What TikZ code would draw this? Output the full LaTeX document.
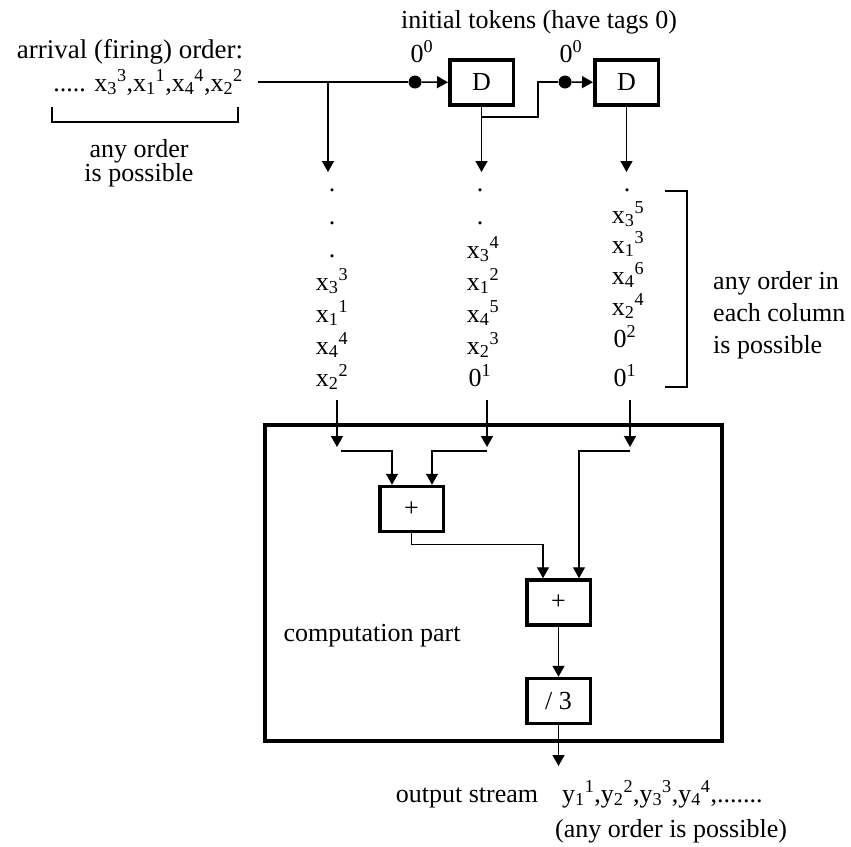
\documentclass[tikz,border=0pt]{standalone}
\usepackage{fontspec}
\setmainfont{Liberation Serif}
\usetikzlibrary{arrows.meta}
\newcommand{\tokx}[2]{x\textsubscript{#1}\textsuperscript{#2}}
\newcommand{\toky}[2]{y\textsubscript{#1}\textsuperscript{#2}}
\begin{document}
\begin{tikzpicture}[x=1pt,y=-1pt,
  thinline/.style={line width=1.4pt},
  bracketline/.style={line width=1.1pt},
  arr/.style={line width=1.4pt,-{Triangle[length=11pt,width=12pt]}},
  opbox/.style={draw,line width=3.5pt,minimum width=63.5pt,minimum height=45pt,inner sep=0pt,font=\fontsize{26}{30}\selectfont},
  tok/.style={circle,fill,inner sep=0pt,minimum size=13pt},
  lbl/.style={font=\fontsize{26}{32}\selectfont,inner sep=0pt,anchor=base},
  lblw/.style={lbl,anchor=base west}]
\useasboundingbox (0,0) rectangle (851,846);

% left texts
\node[lbl,font=\fontsize{27}{32}\selectfont] (arrival) at (130,58) {arrival (firing) order:};
\node[lbl] (seq) at (148,91) {..... \tokx33,\tokx11,\tokx44,\tokx22};
\draw[bracketline] (52,107) -- (52,122) -- (238,122) -- (238,107);
\node[lbl] (any1) at (139,157) {any order};
\node[lbl] (any2) at (139,181) {is possible};

% top
\node[lbl] (init) at (539,28) {initial tokens (have tags 0)};
\coordinate (start) at (258,82);
\coordinate (br1) at (328,82);
\node[tok] (dot1) at (415,82) {};
\node[lbl] (z1) at (422,62) {0\textsuperscript{0}};
\node[opbox] (d1) at (481.5,82.5) {D};
\node[tok] (dot2) at (565,82) {};
\node[lbl] (z2) at (571,62) {0\textsuperscript{0}};
\node[opbox] (d2) at (626.5,82.5) {D};

\coordinate (c1top) at (328,172);
\coordinate (c2top) at (481.5,172);
\coordinate (c3top) at (626.5,172);
\coordinate (jog) at (481.5,117);
\coordinate (jogr) at (538,117);
\coordinate (jogu) at (538,82);

\draw[thinline] (start) -- (dot1);
\draw[arr] (dot1) -- (d1);
\draw[arr] (br1) -- (c1top);
\draw[arr] (d1.south) -- (c2top);
\draw[thinline] (jog) -- (jogr) -- (jogu) -- (dot2);
\draw[arr] (dot2) -- (d2);
\draw[arr] (d2.south) -- (c3top);

% column 1
\node[lbl] (a1) at (332,191) {.};
\node[lbl] (a2) at (332,224) {.};
\node[lbl] (a3) at (332,257) {.};
\node[lbl] (a4) at (332,290) {\tokx33};
\node[lbl] (a5) at (332,322) {\tokx11};
\node[lbl] (a6) at (332,354) {\tokx44};
\node[lbl] (a7) at (332,386) {\tokx22};
% column 2
\node[lbl] (b1) at (480,191) {.};
\node[lbl] (b2) at (480,224) {.};
\node[lbl] (b3) at (483,258) {\tokx34};
\node[lbl] (b4) at (483,290) {\tokx12};
\node[lbl] (b5) at (483,322) {\tokx45};
\node[lbl] (b6) at (483,354) {\tokx23};
\node[lbl] (b7) at (480,386) {0\textsuperscript{1}};
% column 3
\node[lbl] (e1) at (627,191) {.};
\node[lbl] (e2) at (628,223) {\tokx35};
\node[lbl] (e3) at (628,253) {\tokx13};
\node[lbl] (e4) at (628,284) {\tokx46};
\node[lbl] (e5) at (628,315) {\tokx24};
\node[lbl] (e6) at (625,347) {0\textsuperscript{2}};
\node[lbl] (e7) at (625,386) {0\textsuperscript{1}};

\draw[bracketline] (665,191) -- (687,191) -- (687,387) -- (665,387);
\node[lblw] (r1) at (713,289) {any order in};
\node[lblw] (r2) at (713,321) {each column};
\node[lblw] (r3) at (713,353) {is possible};

% computation part
\node[draw,line width=4pt,minimum width=457pt,minimum height=316pt,inner sep=0pt] (comp) at (493.5,583) {};
\node[lbl] (comptext) at (372,641) {computation part};
\node[opbox] (p1) at (411.5,509) {+};
\node[opbox] (p2) at (558.5,602.5) {+};
\node[opbox] (dv) at (558.5,701) {/ 3};

\coordinate (l1s) at (337,400);
\coordinate (l1e) at (337,447);
\coordinate (l1h) at (341,451);
\coordinate (l2s) at (487,400);
\coordinate (l2e) at (487,447);
\coordinate (l2h) at (487,451);
\coordinate (l3s) at (630,400);
\coordinate (l3e) at (630,447);
\coordinate (l3h) at (630,451);

\draw[arr] (l1s) -- (l1e);
\draw[arr] (l2s) -- (l2e);
\draw[arr] (l3s) -- (l3e);
\draw[arr] (l1h) -| ([xshift=-19.5pt]p1.north);
\draw[arr] (l2h) -| ([xshift=20.5pt]p1.north);
\draw[arr] (l3h) -| ([xshift=20.5pt]p2.north);
\draw[arr] (p1.south) -- ++(0,11) -| ([xshift=-15.5pt]p2.north);
\draw[arr] (p2) -- (dv);
\coordinate (out) at (558.5,766);
\draw[arr] (dv) -- (out);

% bottom
\node[lbl] (os) at (467,802) {output stream};
\node[lblw] (ys) at (562,802) {\toky11,\toky22,\toky33,\toky44,.......};
\node[lblw] (aop) at (555,837) {(any order is possible)};
\end{tikzpicture}
\end{document}
